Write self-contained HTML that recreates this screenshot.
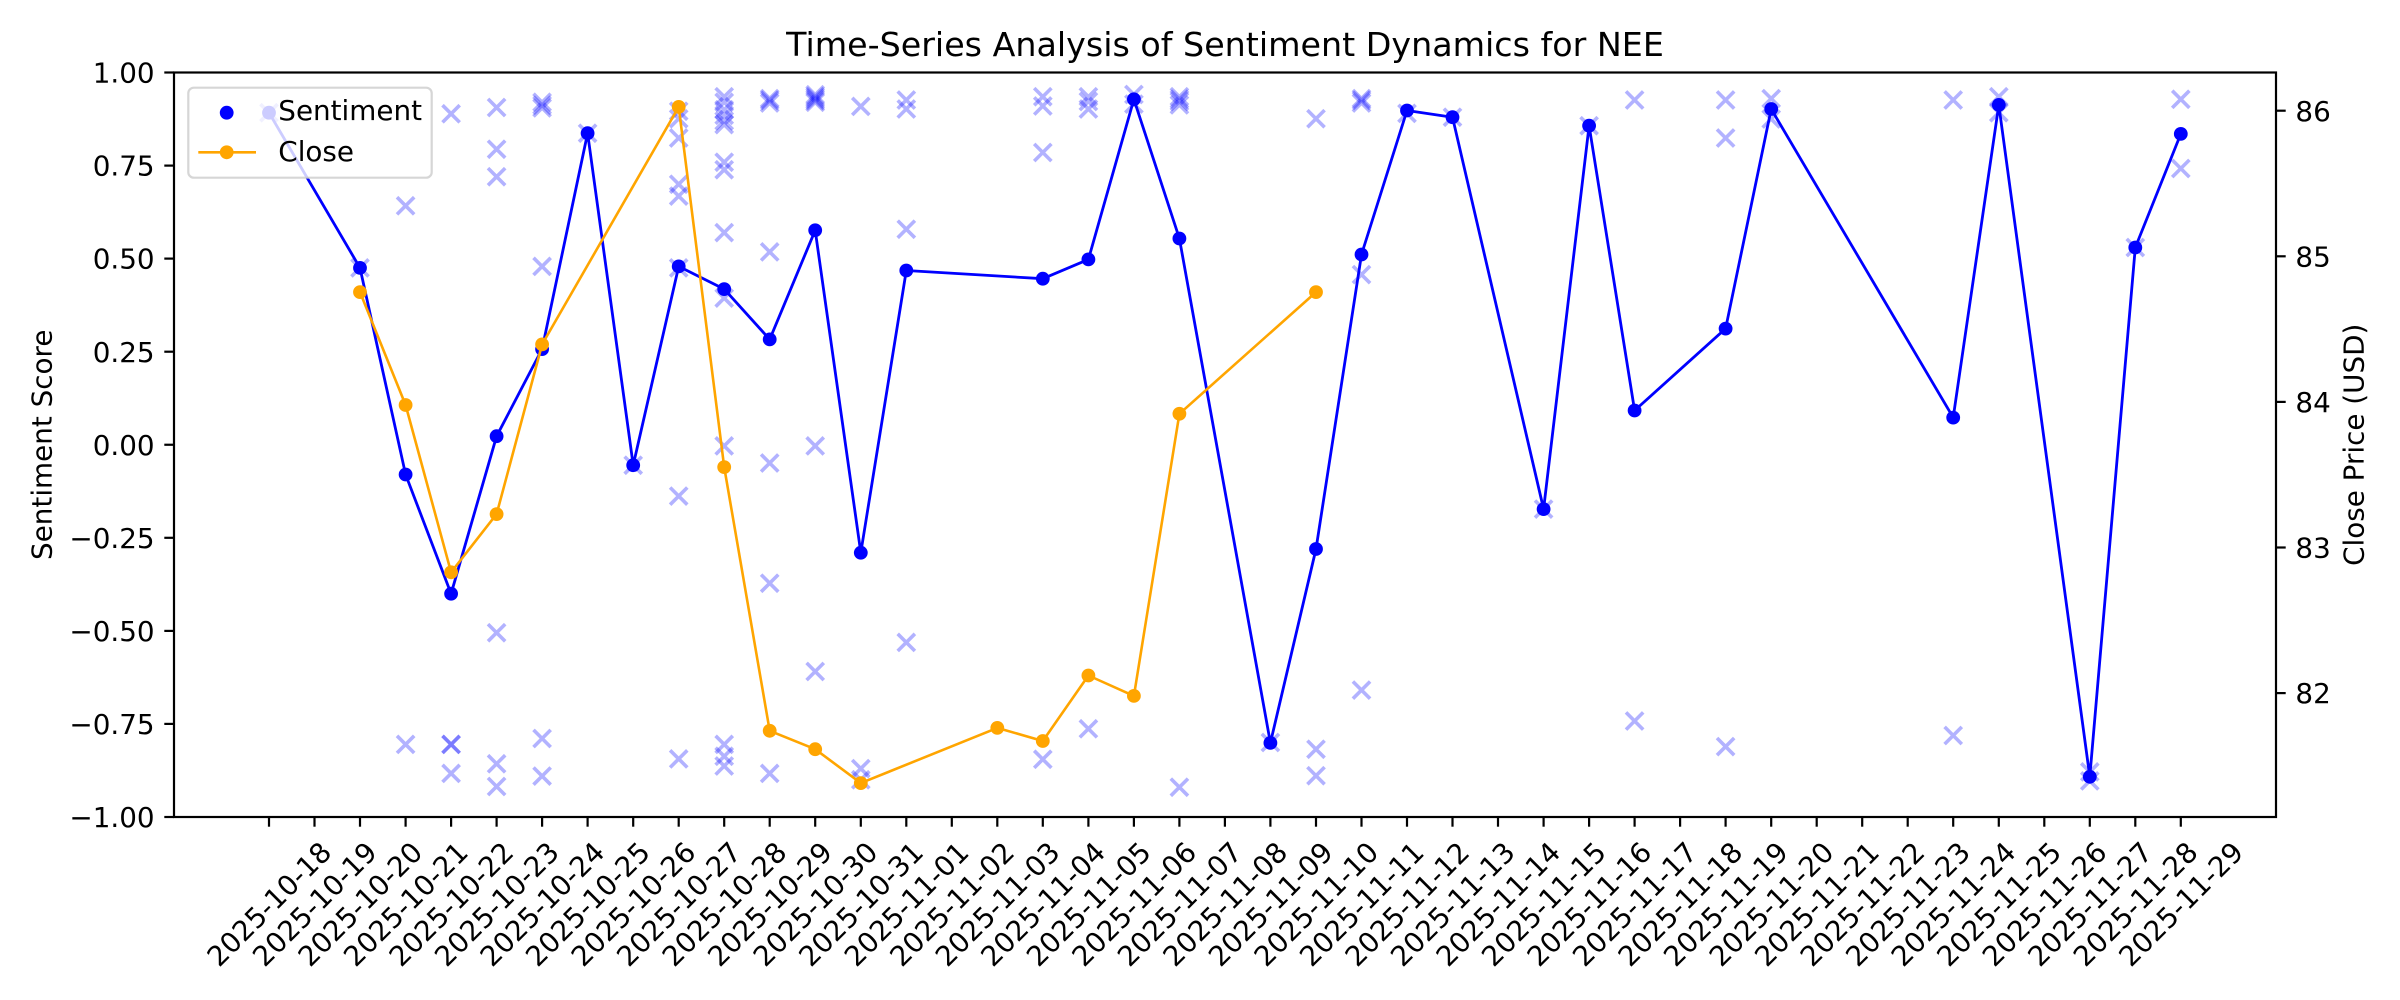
<!DOCTYPE html>
<html>
<head>
<meta charset="utf-8">
<style>
  html, body { margin: 0; padding: 0; background: #ffffff; }
  svg { display: block; }
  text { font-family: "DejaVu Sans", "Liberation Sans", sans-serif; fill: #000; }
</style>
</head>
<body>
<svg width="2400" height="1000" viewBox="0 0 2400 1000" xmlns="http://www.w3.org/2000/svg">
  <defs>
    <path id="xm" d="M-8.6,-8.6L8.6,8.6M8.6,-8.6L-8.6,8.6"/>
  </defs>
  <rect x="0" y="0" width="2400" height="1000" fill="#ffffff"/>

  <!-- Title -->
  <text x="1225" y="55.8" font-size="33.3" text-anchor="middle">Time-Series Analysis of Sentiment Dynamics for NEE</text>

  <!-- scatter crosses (individual articles) -->
  <g stroke="#0000ff" stroke-opacity="0.3" stroke-width="3.6" fill="none">
    <use href="#xm" x="269.0" y="112.7"/>
    <use href="#xm" x="360.0" y="267.9"/>
    <use href="#xm" x="405.6" y="205.8"/>
    <use href="#xm" x="405.6" y="744.4"/>
    <use href="#xm" x="451.1" y="113.8"/>
    <use href="#xm" x="451.1" y="744.4"/>
    <use href="#xm" x="451.1" y="744.4"/>
    <use href="#xm" x="451.1" y="773.4"/>
    <use href="#xm" x="496.6" y="107.5"/>
    <use href="#xm" x="496.6" y="149.2"/>
    <use href="#xm" x="496.6" y="176.7"/>
    <use href="#xm" x="496.6" y="632.7"/>
    <use href="#xm" x="496.6" y="763.8"/>
    <use href="#xm" x="496.6" y="786.5"/>
    <use href="#xm" x="542.1" y="102.3"/>
    <use href="#xm" x="542.1" y="105.3"/>
    <use href="#xm" x="542.1" y="107.9"/>
    <use href="#xm" x="542.1" y="266.4"/>
    <use href="#xm" x="542.1" y="738.5"/>
    <use href="#xm" x="542.1" y="776.1"/>
    <use href="#xm" x="587.6" y="133.2"/>
    <use href="#xm" x="633.2" y="465.2"/>
    <use href="#xm" x="678.7" y="111.2"/>
    <use href="#xm" x="678.7" y="118.7"/>
    <use href="#xm" x="678.7" y="138.0"/>
    <use href="#xm" x="678.7" y="184.2"/>
    <use href="#xm" x="678.7" y="196.1"/>
    <use href="#xm" x="678.7" y="267.9"/>
    <use href="#xm" x="678.7" y="496.1"/>
    <use href="#xm" x="678.7" y="758.9"/>
    <use href="#xm" x="724.2" y="96.7"/>
    <use href="#xm" x="724.2" y="102.3"/>
    <use href="#xm" x="724.2" y="109.7"/>
    <use href="#xm" x="724.2" y="115.3"/>
    <use href="#xm" x="724.2" y="120.9"/>
    <use href="#xm" x="724.2" y="124.6"/>
    <use href="#xm" x="724.2" y="162.2"/>
    <use href="#xm" x="724.2" y="169.7"/>
    <use href="#xm" x="724.2" y="232.6"/>
    <use href="#xm" x="724.2" y="298.1"/>
    <use href="#xm" x="724.2" y="445.9"/>
    <use href="#xm" x="724.2" y="744.4"/>
    <use href="#xm" x="724.2" y="756.3"/>
    <use href="#xm" x="724.2" y="766.0"/>
    <use href="#xm" x="769.7" y="98.6"/>
    <use href="#xm" x="769.7" y="100.4"/>
    <use href="#xm" x="769.7" y="103.0"/>
    <use href="#xm" x="769.7" y="251.9"/>
    <use href="#xm" x="769.7" y="463.0"/>
    <use href="#xm" x="769.7" y="583.2"/>
    <use href="#xm" x="769.7" y="773.4"/>
    <use href="#xm" x="815.2" y="94.8"/>
    <use href="#xm" x="815.2" y="96.7"/>
    <use href="#xm" x="815.2" y="98.6"/>
    <use href="#xm" x="815.2" y="100.4"/>
    <use href="#xm" x="815.2" y="102.3"/>
    <use href="#xm" x="815.2" y="445.9"/>
    <use href="#xm" x="815.2" y="671.5"/>
    <use href="#xm" x="860.8" y="106.4"/>
    <use href="#xm" x="860.8" y="768.6"/>
    <use href="#xm" x="860.8" y="779.8"/>
    <use href="#xm" x="906.3" y="100.0"/>
    <use href="#xm" x="906.3" y="109.0"/>
    <use href="#xm" x="906.3" y="229.2"/>
    <use href="#xm" x="906.3" y="642.4"/>
    <use href="#xm" x="1042.8" y="96.7"/>
    <use href="#xm" x="1042.8" y="106.0"/>
    <use href="#xm" x="1042.8" y="152.5"/>
    <use href="#xm" x="1042.8" y="759.3"/>
    <use href="#xm" x="1088.4" y="96.7"/>
    <use href="#xm" x="1088.4" y="101.5"/>
    <use href="#xm" x="1088.4" y="109.0"/>
    <use href="#xm" x="1088.4" y="728.8"/>
    <use href="#xm" x="1133.9" y="94.5"/>
    <use href="#xm" x="1133.9" y="104.1"/>
    <use href="#xm" x="1179.4" y="96.7"/>
    <use href="#xm" x="1179.4" y="99.3"/>
    <use href="#xm" x="1179.4" y="101.5"/>
    <use href="#xm" x="1179.4" y="104.9"/>
    <use href="#xm" x="1179.4" y="787.2"/>
    <use href="#xm" x="1270.4" y="742.5"/>
    <use href="#xm" x="1316.0" y="118.7"/>
    <use href="#xm" x="1316.0" y="749.2"/>
    <use href="#xm" x="1316.0" y="775.7"/>
    <use href="#xm" x="1361.5" y="98.6"/>
    <use href="#xm" x="1361.5" y="100.4"/>
    <use href="#xm" x="1361.5" y="103.0"/>
    <use href="#xm" x="1361.5" y="274.6"/>
    <use href="#xm" x="1361.5" y="690.1"/>
    <use href="#xm" x="1407.0" y="113.4"/>
    <use href="#xm" x="1452.5" y="117.2"/>
    <use href="#xm" x="1543.6" y="509.1"/>
    <use href="#xm" x="1589.1" y="125.7"/>
    <use href="#xm" x="1634.6" y="100.0"/>
    <use href="#xm" x="1634.6" y="721.0"/>
    <use href="#xm" x="1725.6" y="100.0"/>
    <use href="#xm" x="1725.6" y="138.0"/>
    <use href="#xm" x="1725.6" y="746.6"/>
    <use href="#xm" x="1771.2" y="98.6"/>
    <use href="#xm" x="1771.2" y="119.0"/>
    <use href="#xm" x="1953.2" y="100.0"/>
    <use href="#xm" x="1953.2" y="735.5"/>
    <use href="#xm" x="1998.8" y="96.7"/>
    <use href="#xm" x="1998.8" y="112.7"/>
    <use href="#xm" x="2089.8" y="771.9"/>
    <use href="#xm" x="2089.8" y="780.9"/>
    <use href="#xm" x="2135.3" y="247.5"/>
    <use href="#xm" x="2180.8" y="99.3"/>
    <use href="#xm" x="2180.8" y="168.5"/>
  </g>

  <!-- Sentiment line -->
  <polyline fill="none" stroke="#0000ff" stroke-width="2.8" stroke-linejoin="round"
    points="269.0,112.7 360.0,267.9 405.6,474.5 451.1,593.7 496.6,436.2 542.1,349.1 587.6,133.2 633.2,465.2 678.7,266.4 724.2,289.1 769.7,339.4 815.2,230.3 860.8,552.7 906.3,270.5 1042.8,278.7 1088.4,259.4 1133.9,99.3 1179.4,238.5 1270.4,742.9 1316.0,549.0 1361.5,254.5 1407.0,110.5 1452.5,117.2 1543.6,509.1 1589.1,125.7 1634.6,410.5 1725.6,328.6 1771.2,109.0 1953.2,417.6 1998.8,104.9 2089.8,776.8 2135.3,247.5 2180.8,133.9"/>
  <g fill="#0000ff">
    <circle cx="269.0" cy="112.7" r="6.9"/>
    <circle cx="360.0" cy="267.9" r="6.9"/>
    <circle cx="405.6" cy="474.5" r="6.9"/>
    <circle cx="451.1" cy="593.7" r="6.9"/>
    <circle cx="496.6" cy="436.2" r="6.9"/>
    <circle cx="542.1" cy="349.1" r="6.9"/>
    <circle cx="587.6" cy="133.2" r="6.9"/>
    <circle cx="633.2" cy="465.2" r="6.9"/>
    <circle cx="678.7" cy="266.4" r="6.9"/>
    <circle cx="724.2" cy="289.1" r="6.9"/>
    <circle cx="769.7" cy="339.4" r="6.9"/>
    <circle cx="815.2" cy="230.3" r="6.9"/>
    <circle cx="860.8" cy="552.7" r="6.9"/>
    <circle cx="906.3" cy="270.5" r="6.9"/>
    <circle cx="1042.8" cy="278.7" r="6.9"/>
    <circle cx="1088.4" cy="259.4" r="6.9"/>
    <circle cx="1133.9" cy="99.3" r="6.9"/>
    <circle cx="1179.4" cy="238.5" r="6.9"/>
    <circle cx="1270.4" cy="742.9" r="6.9"/>
    <circle cx="1316.0" cy="549.0" r="6.9"/>
    <circle cx="1361.5" cy="254.5" r="6.9"/>
    <circle cx="1407.0" cy="110.5" r="6.9"/>
    <circle cx="1452.5" cy="117.2" r="6.9"/>
    <circle cx="1543.6" cy="509.1" r="6.9"/>
    <circle cx="1589.1" cy="125.7" r="6.9"/>
    <circle cx="1634.6" cy="410.5" r="6.9"/>
    <circle cx="1725.6" cy="328.6" r="6.9"/>
    <circle cx="1771.2" cy="109.0" r="6.9"/>
    <circle cx="1953.2" cy="417.6" r="6.9"/>
    <circle cx="1998.8" cy="104.9" r="6.9"/>
    <circle cx="2089.8" cy="776.8" r="6.9"/>
    <circle cx="2135.3" cy="247.5" r="6.9"/>
    <circle cx="2180.8" cy="133.9" r="6.9"/>
  </g>

  <!-- Close line (twin axis) -->
  <polyline fill="none" stroke="#ffa500" stroke-width="2.6" stroke-linejoin="round"
    points="360.0,292.1 405.6,405.0 451.1,572.3 496.6,514.1 542.1,344.4 678.7,106.9 724.2,467.1 769.7,730.8 815.2,749.2 860.8,783.1 997.3,727.9 1042.8,741.0 1088.4,675.5 1133.9,695.9 1179.4,413.8 1316.0,292.1"/>
  <g fill="#ffa500">
    <circle cx="360.0" cy="292.1" r="6.9"/>
    <circle cx="405.6" cy="405.0" r="6.9"/>
    <circle cx="451.1" cy="572.3" r="6.9"/>
    <circle cx="496.6" cy="514.1" r="6.9"/>
    <circle cx="542.1" cy="344.4" r="6.9"/>
    <circle cx="678.7" cy="106.9" r="6.9"/>
    <circle cx="724.2" cy="467.1" r="6.9"/>
    <circle cx="769.7" cy="730.8" r="6.9"/>
    <circle cx="815.2" cy="749.2" r="6.9"/>
    <circle cx="860.8" cy="783.1" r="6.9"/>
    <circle cx="997.3" cy="727.9" r="6.9"/>
    <circle cx="1042.8" cy="741.0" r="6.9"/>
    <circle cx="1088.4" cy="675.5" r="6.9"/>
    <circle cx="1133.9" cy="695.9" r="6.9"/>
    <circle cx="1179.4" cy="413.8" r="6.9"/>
    <circle cx="1316.0" cy="292.1" r="6.9"/>
  </g>

  <!-- Spines -->
  <rect x="174" y="72.5" width="2102" height="744.5" fill="none" stroke="#000" stroke-width="2.2"/>

  <!-- Left y ticks -->
  <g stroke="#000" stroke-width="2.2">
    <line x1="164.3" y1="72.5" x2="174" y2="72.5"/>
    <line x1="164.3" y1="165.6" x2="174" y2="165.6"/>
    <line x1="164.3" y1="258.6" x2="174" y2="258.6"/>
    <line x1="164.3" y1="351.7" x2="174" y2="351.7"/>
    <line x1="164.3" y1="444.75" x2="174" y2="444.75"/>
    <line x1="164.3" y1="537.8" x2="174" y2="537.8"/>
    <line x1="164.3" y1="630.9" x2="174" y2="630.9"/>
    <line x1="164.3" y1="723.9" x2="174" y2="723.9"/>
    <line x1="164.3" y1="817" x2="174" y2="817"/>
  </g>
  <g font-size="27.8" text-anchor="end">
    <text x="154.6" y="82.6">1.00</text>
    <text x="154.6" y="175.7">0.75</text>
    <text x="154.6" y="268.7">0.50</text>
    <text x="154.6" y="361.8">0.25</text>
    <text x="154.6" y="454.9">0.00</text>
    <text x="154.6" y="547.9">−0.25</text>
    <text x="154.6" y="641.0">−0.50</text>
    <text x="154.6" y="734.0">−0.75</text>
    <text x="154.6" y="827.1">−1.00</text>
  </g>
  <text font-size="27.8" text-anchor="middle" transform="translate(51.5,444.75) rotate(-90)">Sentiment Score</text>

  <!-- Right y ticks -->
  <g stroke="#000" stroke-width="2.2">
    <line x1="2276" y1="110.7" x2="2285.7" y2="110.7"/>
    <line x1="2276" y1="256.3" x2="2285.7" y2="256.3"/>
    <line x1="2276" y1="401.9" x2="2285.7" y2="401.9"/>
    <line x1="2276" y1="547.5" x2="2285.7" y2="547.5"/>
    <line x1="2276" y1="693.1" x2="2285.7" y2="693.1"/>
  </g>
  <g font-size="27.8" text-anchor="start">
    <text x="2295.4" y="120.8">86</text>
    <text x="2295.4" y="266.4">85</text>
    <text x="2295.4" y="412.0">84</text>
    <text x="2295.4" y="557.6">83</text>
    <text x="2295.4" y="703.2">82</text>
  </g>
  <text font-size="27.8" text-anchor="middle" transform="translate(2363.5,444.75) rotate(-90)">Close Price (USD)</text>

  <!-- X ticks -->
  <g stroke="#000" stroke-width="2.2">
    <line x1="269.0" y1="817" x2="269.0" y2="826.7"/>
    <line x1="314.5" y1="817" x2="314.5" y2="826.7"/>
    <line x1="360.0" y1="817" x2="360.0" y2="826.7"/>
    <line x1="405.6" y1="817" x2="405.6" y2="826.7"/>
    <line x1="451.1" y1="817" x2="451.1" y2="826.7"/>
    <line x1="496.6" y1="817" x2="496.6" y2="826.7"/>
    <line x1="542.1" y1="817" x2="542.1" y2="826.7"/>
    <line x1="587.6" y1="817" x2="587.6" y2="826.7"/>
    <line x1="633.2" y1="817" x2="633.2" y2="826.7"/>
    <line x1="678.7" y1="817" x2="678.7" y2="826.7"/>
    <line x1="724.2" y1="817" x2="724.2" y2="826.7"/>
    <line x1="769.7" y1="817" x2="769.7" y2="826.7"/>
    <line x1="815.2" y1="817" x2="815.2" y2="826.7"/>
    <line x1="860.8" y1="817" x2="860.8" y2="826.7"/>
    <line x1="906.3" y1="817" x2="906.3" y2="826.7"/>
    <line x1="951.8" y1="817" x2="951.8" y2="826.7"/>
    <line x1="997.3" y1="817" x2="997.3" y2="826.7"/>
    <line x1="1042.8" y1="817" x2="1042.8" y2="826.7"/>
    <line x1="1088.4" y1="817" x2="1088.4" y2="826.7"/>
    <line x1="1133.9" y1="817" x2="1133.9" y2="826.7"/>
    <line x1="1179.4" y1="817" x2="1179.4" y2="826.7"/>
    <line x1="1224.9" y1="817" x2="1224.9" y2="826.7"/>
    <line x1="1270.4" y1="817" x2="1270.4" y2="826.7"/>
    <line x1="1316.0" y1="817" x2="1316.0" y2="826.7"/>
    <line x1="1361.5" y1="817" x2="1361.5" y2="826.7"/>
    <line x1="1407.0" y1="817" x2="1407.0" y2="826.7"/>
    <line x1="1452.5" y1="817" x2="1452.5" y2="826.7"/>
    <line x1="1498.0" y1="817" x2="1498.0" y2="826.7"/>
    <line x1="1543.6" y1="817" x2="1543.6" y2="826.7"/>
    <line x1="1589.1" y1="817" x2="1589.1" y2="826.7"/>
    <line x1="1634.6" y1="817" x2="1634.6" y2="826.7"/>
    <line x1="1680.1" y1="817" x2="1680.1" y2="826.7"/>
    <line x1="1725.6" y1="817" x2="1725.6" y2="826.7"/>
    <line x1="1771.2" y1="817" x2="1771.2" y2="826.7"/>
    <line x1="1816.7" y1="817" x2="1816.7" y2="826.7"/>
    <line x1="1862.2" y1="817" x2="1862.2" y2="826.7"/>
    <line x1="1907.7" y1="817" x2="1907.7" y2="826.7"/>
    <line x1="1953.2" y1="817" x2="1953.2" y2="826.7"/>
    <line x1="1998.8" y1="817" x2="1998.8" y2="826.7"/>
    <line x1="2044.3" y1="817" x2="2044.3" y2="826.7"/>
    <line x1="2089.8" y1="817" x2="2089.8" y2="826.7"/>
    <line x1="2135.3" y1="817" x2="2135.3" y2="826.7"/>
    <line x1="2180.8" y1="817" x2="2180.8" y2="826.7"/>
  </g>
  <g font-size="27.8" text-anchor="middle">
    <text transform="translate(269.0,904) rotate(-45)" y="10">2025-10-18</text>
    <text transform="translate(314.5,904) rotate(-45)" y="10">2025-10-19</text>
    <text transform="translate(360.0,904) rotate(-45)" y="10">2025-10-20</text>
    <text transform="translate(405.6,904) rotate(-45)" y="10">2025-10-21</text>
    <text transform="translate(451.1,904) rotate(-45)" y="10">2025-10-22</text>
    <text transform="translate(496.6,904) rotate(-45)" y="10">2025-10-23</text>
    <text transform="translate(542.1,904) rotate(-45)" y="10">2025-10-24</text>
    <text transform="translate(587.6,904) rotate(-45)" y="10">2025-10-25</text>
    <text transform="translate(633.2,904) rotate(-45)" y="10">2025-10-26</text>
    <text transform="translate(678.7,904) rotate(-45)" y="10">2025-10-27</text>
    <text transform="translate(724.2,904) rotate(-45)" y="10">2025-10-28</text>
    <text transform="translate(769.7,904) rotate(-45)" y="10">2025-10-29</text>
    <text transform="translate(815.2,904) rotate(-45)" y="10">2025-10-30</text>
    <text transform="translate(860.8,904) rotate(-45)" y="10">2025-10-31</text>
    <text transform="translate(906.3,904) rotate(-45)" y="10">2025-11-01</text>
    <text transform="translate(951.8,904) rotate(-45)" y="10">2025-11-02</text>
    <text transform="translate(997.3,904) rotate(-45)" y="10">2025-11-03</text>
    <text transform="translate(1042.8,904) rotate(-45)" y="10">2025-11-04</text>
    <text transform="translate(1088.4,904) rotate(-45)" y="10">2025-11-05</text>
    <text transform="translate(1133.9,904) rotate(-45)" y="10">2025-11-06</text>
    <text transform="translate(1179.4,904) rotate(-45)" y="10">2025-11-07</text>
    <text transform="translate(1224.9,904) rotate(-45)" y="10">2025-11-08</text>
    <text transform="translate(1270.4,904) rotate(-45)" y="10">2025-11-09</text>
    <text transform="translate(1316.0,904) rotate(-45)" y="10">2025-11-10</text>
    <text transform="translate(1361.5,904) rotate(-45)" y="10">2025-11-11</text>
    <text transform="translate(1407.0,904) rotate(-45)" y="10">2025-11-12</text>
    <text transform="translate(1452.5,904) rotate(-45)" y="10">2025-11-13</text>
    <text transform="translate(1498.0,904) rotate(-45)" y="10">2025-11-14</text>
    <text transform="translate(1543.6,904) rotate(-45)" y="10">2025-11-15</text>
    <text transform="translate(1589.1,904) rotate(-45)" y="10">2025-11-16</text>
    <text transform="translate(1634.6,904) rotate(-45)" y="10">2025-11-17</text>
    <text transform="translate(1680.1,904) rotate(-45)" y="10">2025-11-18</text>
    <text transform="translate(1725.6,904) rotate(-45)" y="10">2025-11-19</text>
    <text transform="translate(1771.2,904) rotate(-45)" y="10">2025-11-20</text>
    <text transform="translate(1816.7,904) rotate(-45)" y="10">2025-11-21</text>
    <text transform="translate(1862.2,904) rotate(-45)" y="10">2025-11-22</text>
    <text transform="translate(1907.7,904) rotate(-45)" y="10">2025-11-23</text>
    <text transform="translate(1953.2,904) rotate(-45)" y="10">2025-11-24</text>
    <text transform="translate(1998.8,904) rotate(-45)" y="10">2025-11-25</text>
    <text transform="translate(2044.3,904) rotate(-45)" y="10">2025-11-26</text>
    <text transform="translate(2089.8,904) rotate(-45)" y="10">2025-11-27</text>
    <text transform="translate(2135.3,904) rotate(-45)" y="10">2025-11-28</text>
    <text transform="translate(2180.8,904) rotate(-45)" y="10">2025-11-29</text>
  </g>

  <!-- Legend -->
  <rect x="188.3" y="87.7" width="243.4" height="90" rx="5.5" ry="5.5" fill="#ffffff" fill-opacity="0.8" stroke="#cccccc" stroke-opacity="0.8" stroke-width="2.2"/>
  <circle cx="226.7" cy="112.7" r="6.9" fill="#0000ff"/>
  <line x1="198.3" y1="152.3" x2="256" y2="152.3" stroke="#ffa500" stroke-width="2.6"/>
  <circle cx="226.7" cy="152.3" r="6.9" fill="#ffa500"/>
  <text x="278.3" y="120.2" font-size="27.8">Sentiment</text>
  <text x="278.3" y="160.8" font-size="27.8">Close</text>
</svg>
</body>
</html>
